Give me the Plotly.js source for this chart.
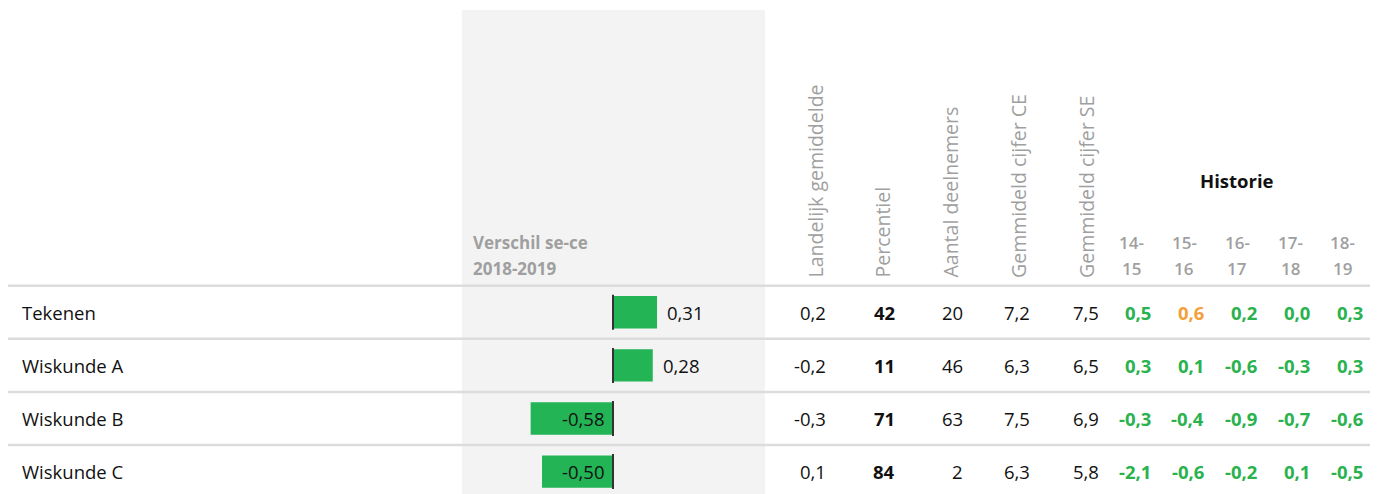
<!DOCTYPE html>
<html><head><meta charset="utf-8">
<script src="https://cdn.plot.ly/plotly-3.0.1.min.js"></script>
<style>html,body{margin:0;padding:0;background:#fff}#chart{width:1383px;height:494px}</style>
</head><body><div id="chart"></div>
<script>
// ---- data ----
const subjects = ['Tekenen', 'Wiskunde A', 'Wiskunde B', 'Wiskunde C'];
const verschil = [0.31, 0.28, -0.58, -0.50];
const landelijk = [0.2, -0.2, -0.3, 0.1];
const percentiel = [42, 11, 71, 84];
const deelnemers = [20, 46, 63, 2];
const cijferCE = [7.2, 6.3, 7.5, 6.3];
const cijferSE = [7.5, 6.5, 6.9, 5.8];
const historieYears = ['14-15', '15-16', '16-17', '17-18', '18-19'];
const historieTekenen = [0.5, 0.6, 0.2, 0.0, 0.3];
const historieWiskA = [0.3, 0.1, -0.6, -0.3, 0.3];
const historieWiskB = [-0.3, -0.4, -0.9, -0.7, -0.6];
const historieWiskC = [-2.1, -0.6, -0.2, 0.1, -0.5];
const historieFlagTekenen = [0, 1, 0, 0, 0];
const historieFlagWiskA = [0, 0, 0, 0, 0];
const historieFlagWiskB = [0, 0, 0, 0, 0];
const historieFlagWiskC = [0, 0, 0, 0, 0];
const columnTitles = ['Landelijk gemiddelde', 'Percentiel', 'Aantal deelnemers', 'Gemmideld cijfer CE', 'Gemmideld cijfer SE'];

// ---- layout constants ----
const W = 1383, H = 494;
const FONT = 'Open Sans, sans-serif';
const FS = 18.5;
const GREEN = '#22b455', HGREEN = '#29b24e', ORANGE = '#f4a03a', GREY = '#9f9f9f', TXT = '#111111';
const historie = [historieTekenen, historieWiskA, historieWiskB, historieWiskC];
const historieFlag = [historieFlagTekenen, historieFlagWiskA, historieFlagWiskB, historieFlagWiskC];
const rows = subjects.map((_, i) => i);
const px = v => v / W;
const py = v => 1 - v / H;
const fmt1 = v => v.toFixed(1).replace('.', ',');

const barTrace = {
  type: 'bar', orientation: 'h', x: verschil, y: rows, width: 0.61,
  marker: {color: GREEN}, hoverinfo: 'skip', xaxis: 'x', yaxis: 'y'
};

const ann = [];
const shapes = [];
// grey panel
shapes.push({type: 'rect', xref: 'paper', yref: 'paper', x0: px(462), x1: px(765), y0: 0, y1: py(10),
  fillcolor: '#f3f3f3', line: {width: 0}, layer: 'below'});
// separators
rows.forEach(i => shapes.push({type: 'line', xref: 'paper', yref: 'y', x0: px(8), x1: px(1370), y0: i - 0.5, y1: i - 0.5,
  line: {color: '#dcdcdc', width: 2.5}, layer: 'below'}));
// zero ticks per bar
rows.forEach(i => shapes.push({type: 'line', xref: 'x', yref: 'y', x0: 0, x1: 0, y0: i - 0.33, y1: i + 0.33,
  line: {color: '#333333', width: 2}, layer: 'above'}));

function cell(text, x, y, anchor, opts) {
  ann.push(Object.assign({text: text, xref: 'paper', yref: 'y', x: px(x), y: y, xanchor: anchor, yanchor: 'middle',
    showarrow: false, font: {family: FONT, size: FS, color: TXT}}, opts || {}));
}

rows.forEach(i => {
  cell(subjects[i], 20, i, 'left');
  // bar labels
  const v = verschil[i];
  ann.push({text: v.toFixed(2).replace('.', ','), xref: 'x', yref: 'y', x: v >= 0 ? v : 0, y: i,
    xanchor: v >= 0 ? 'left' : 'right', xshift: v >= 0 ? 8 : -7, yanchor: 'middle', showarrow: false,
    font: {family: FONT, size: FS, color: TXT}});
  cell(fmt1(landelijk[i]), 828, i, 'right');
  cell('<b>' + percentiel[i] + '</b>', 884, i, 'center');
  cell(String(deelnemers[i]), 965, i, 'right');
  cell(fmt1(cijferCE[i]), 1032, i, 'right');
  cell(fmt1(cijferSE[i]), 1101, i, 'right');
  const hx = [1153, 1206, 1259, 1312, 1365];
  historie[i].forEach((v, j) => cell('<b>' + fmt1(v) + '</b>', hx[j], i, 'right',
    {font: {family: FONT, size: FS, color: historieFlag[i][j] ? ORANGE : HGREEN}}));
});

// headers
const hdrX = [815, 882, 950, 1018, 1086];
columnTitles.forEach((t, k) => ann.push({text: t, xref: 'paper', yref: 'paper', x: px(hdrX[k]), y: py(280),
  xanchor: 'center', yanchor: 'bottom', textangle: -90, showarrow: false,
  font: {family: FONT, size: 19.5, color: GREY}}));
ann.push({text: '<b>Verschil se-ce</b>', xref: 'paper', yref: 'paper', x: px(471), y: py(243), xanchor: 'left', yanchor: 'middle',
  showarrow: false, font: {family: FONT, size: 17, color: GREY}});
ann.push({text: '<b>2018-2019</b>', xref: 'paper', yref: 'paper', x: px(471), y: py(268), xanchor: 'left', yanchor: 'middle',
  showarrow: false, font: {family: FONT, size: 17, color: GREY}});
ann.push({text: '<b>Historie</b>', xref: 'paper', yref: 'paper', x: px(1237), y: py(180), xanchor: 'center', yanchor: 'middle',
  showarrow: false, font: {family: FONT, size: FS, color: TXT}});
const yx = [1131, 1184, 1237, 1290, 1342];
historieYears.forEach((t, j) => {
  const parts = t.split('-');
  ann.push({text: parts[0] + '-', xref: 'paper', yref: 'paper', x: px(yx[j]), y: py(243), xanchor: 'center', yanchor: 'middle',
    showarrow: false, font: {family: FONT, size: 17, color: GREY, weight: 600}});
  ann.push({text: parts[1], xref: 'paper', yref: 'paper', x: px(yx[j]), y: py(268), xanchor: 'center', yanchor: 'middle',
    showarrow: false, font: {family: FONT, size: 17, color: GREY, weight: 600}});
});

const layout = {
  width: W, height: H, margin: {l: 0, r: 0, t: 0, b: 0},
  paper_bgcolor: '#ffffff', plot_bgcolor: 'rgba(0,0,0,0)', showlegend: false,
  separators: ',.',
  xaxis: {domain: [px(462), px(765)], range: [(462 - 613) / 142, (765 - 613) / 142], visible: false, fixedrange: true},
  yaxis: {domain: [0, 1], range: [(H - 312.3) / 53.1, -312.3 / 53.1], visible: false, fixedrange: true},
  shapes: shapes, annotations: ann
};
Plotly.newPlot('chart', [barTrace], layout, {displayModeBar: false, staticPlot: true});
</script>
</body></html>
